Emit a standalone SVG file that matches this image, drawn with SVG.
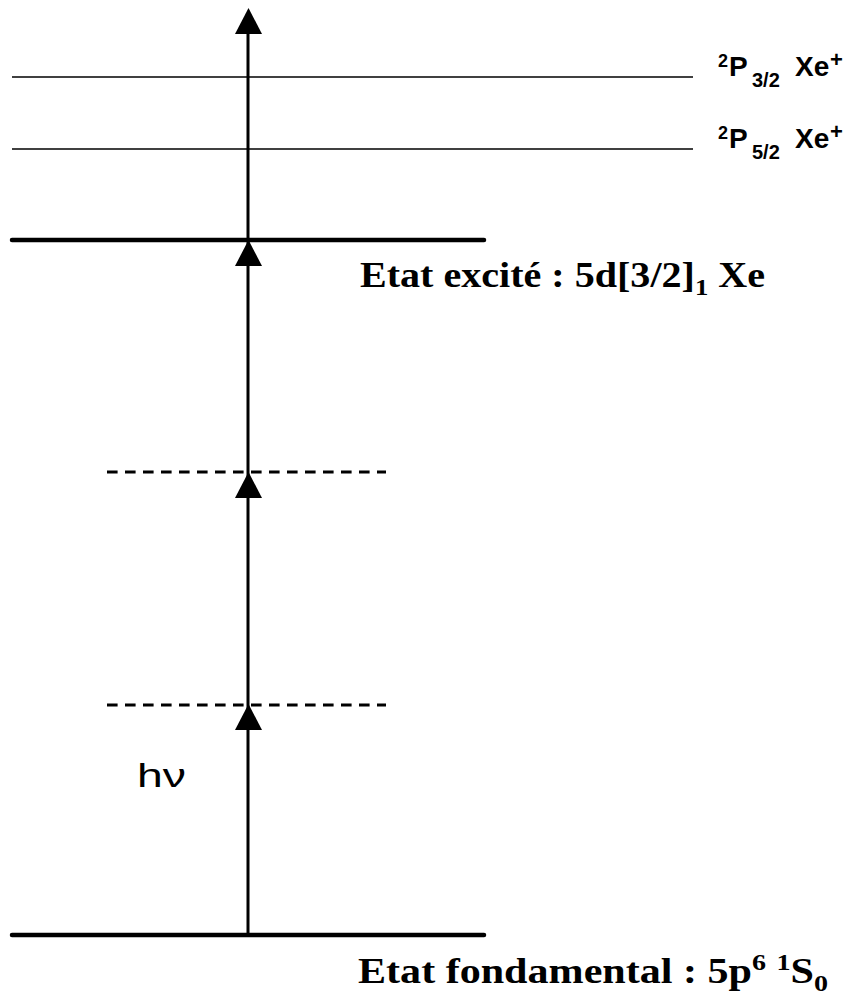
<svg xmlns="http://www.w3.org/2000/svg" width="855" height="997" viewBox="0 0 855 997">
<style>
.thin{stroke:#000;stroke-width:1.6;fill:none}
.thick{stroke:#000;stroke-width:4.5;stroke-linecap:round;fill:none}
.dash{stroke:#000;stroke-width:3;stroke-dasharray:10.6 7.4;fill:none}
.ax{stroke:#000;stroke-width:3;fill:none}
.head{fill:#000}
.lab{font-family:"Liberation Sans",Arial,sans-serif;font-weight:bold;font-size:28px;fill:#000}
.sup{font-size:18px}
.sub{font-size:20px}
.pl{font-size:22px}
.tlab{font-family:"Liberation Serif","Times New Roman",serif;font-weight:bold;font-size:36px;fill:#000}
.hv{font-family:"Liberation Sans",Arial,sans-serif;font-size:34px;fill:#000}
</style>
<rect width="855" height="997" fill="#fff"/>
<g id="level-p32">
<line class="thin" x1="12" y1="77" x2="693" y2="77"/>
<text class="lab"><tspan class="sup" x="718" y="67">2</tspan><tspan x="729" y="76">P</tspan><tspan class="sub" x="752" y="87">3/2</tspan><tspan x="795" y="76">Xe</tspan><tspan class="pl" x="830" y="67">+</tspan></text>
</g>
<g id="level-p52">
<line class="thin" x1="12" y1="149" x2="693" y2="149"/>
<text class="lab"><tspan class="sup" x="718" y="139">2</tspan><tspan x="729" y="148">P</tspan><tspan class="sub" x="752" y="159">5/2</tspan><tspan x="795" y="148">Xe</tspan><tspan class="pl" x="830" y="139">+</tspan></text>
</g>
<g id="level-excited">
<line class="thick" x1="12" y1="240" x2="484" y2="240"/>
<text class="tlab" x="360" y="287" textLength="405" lengthAdjust="spacingAndGlyphs">Etat excité : 5d[3/2]<tspan font-size="24" dy="8">1</tspan><tspan dy="-8"> Xe</tspan></text>
</g>
<g id="virtual-2">
<line class="dash" x1="107" y1="472" x2="386" y2="472"/>
</g>
<g id="virtual-1">
<line class="dash" x1="107" y1="705" x2="386" y2="705"/>
</g>
<g id="level-ground">
<line class="thick" x1="12" y1="935" x2="484" y2="935"/>
<text class="tlab" x="358" y="983" textLength="470" lengthAdjust="spacingAndGlyphs">Etat fondamental : 5p<tspan font-size="24" dy="-13">6</tspan><tspan dy="13"> </tspan><tspan font-size="24" dy="-13">1</tspan><tspan dy="13">S</tspan><tspan font-size="24" dy="8">0</tspan></text>
</g>
<g id="photon-label">
<text class="hv" x="137" y="787" textLength="49" lengthAdjust="spacingAndGlyphs">hν</text>
</g>
<g id="connectors">
<line class="ax" x1="248" y1="935" x2="248" y2="30"/>
<polygon class="head" points="248.5,8 235,34 262,34"/>
<polygon class="head" points="248.5,240 235,266 262,266"/>
<polygon class="head" points="248.5,472 235,498 262,498"/>
<polygon class="head" points="248.5,704 235,730 262,730"/>
</g>
</svg>
